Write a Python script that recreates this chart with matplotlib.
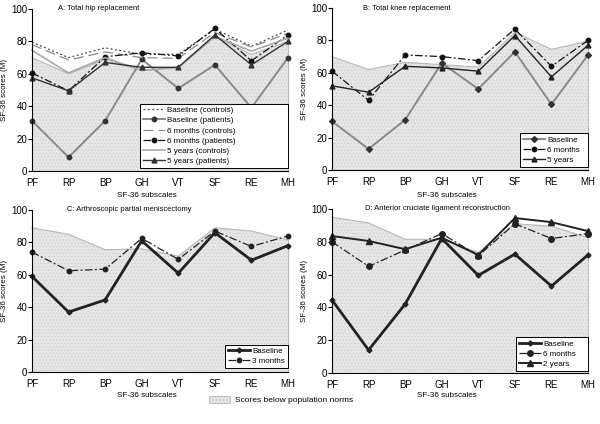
import matplotlib
matplotlib.use("Agg")
import matplotlib.pyplot as plt
from matplotlib.patches import Patch

subscales = ['PF', 'RP', 'BP', 'GH', 'VT', 'SF', 'RE', 'MH']

# A: total hip replacement
hip_norm = [70, 60, 69, 62, 64, 83, 72, 80]
hip_base_ctrl = [79.5, 70, 76, 72, 72, 87.5, 77, 87]
hip_base_pat = [31, 8.5, 31, 69, 51, 65.5, 39, 70]
hip_6m_ctrl = [78, 68.5, 73.5, 70, 69.5, 85.5, 76.5, 85]
hip_6m_pat = [60.5, 49.5, 70.5, 73, 71, 88, 68, 84]
hip_5y_ctrl = [74.5, 60.5, 70, 62, 64, 83, 74, 82]
hip_5y_pat = [57.5, 49.5, 67, 64, 64, 84, 65.5, 80]

# B: total knee replacement
knee_norm = [70, 62, 66.5, 65, 63.5, 85, 74.5, 79.5]
knee_base = [30, 13, 31, 66, 50, 73, 40.5, 71]
knee_6m = [61, 43, 71, 70, 67.5, 87, 64, 80]
knee_5y = [52, 48, 64, 63, 61, 83, 57.5, 77]

# C: arthroscopic partial meniscectomy
apm_norm = [89, 85, 75.5, 76, 71.5, 89, 87, 81.5]
apm_base = [59, 37, 44.5, 81, 61, 86, 69, 78]
apm_3m = [74, 62.5, 63.5, 82.5, 69.5, 87, 77.5, 84]

# D: ACL reconstruction
acl_norm = [95, 91.5, 81.5, 81.5, 73.5, 91, 89.5, 82.5]
acl_base = [44.5, 14, 42, 82, 59.5, 72.5, 53, 72]
acl_6m = [80, 65, 75, 85, 71.5, 91, 82, 85]
acl_2y = [83.5, 80.5, 75.5, 82.5, 72, 94.5, 92, 86.5]

plt.rcParams['font.family'] = ['Liberation Sans', 'DejaVu Sans']
plt.rcParams['hatch.linewidth'] = 0.5

fig = plt.figure(figsize=(6, 4.24), dpi=100)
x = list(range(len(subscales)))

# axes boxes in pixels: left, top, right, bottom
px = {
    'A': (32, 9, 288, 171),
    'B': (332, 8, 588, 170),
    'C': (32, 210, 288, 372),
    'D': (332, 209, 588, 373),
}


def make_ax(key):
    l, t, r, b = px[key]
    return fig.add_axes([l / 600, 1 - b / 424, (r - l) / 600, (b - t) / 424])


def setup(ax, norm, title, tx, xly):
    ax.fill_between(x, 0, norm, facecolor='#e6e6e6', edgecolor='#cdcdcd',
                    hatch='.....', linewidth=0, zorder=0)
    ax.plot(x, norm, color='#b8b8b8', lw=0.8, zorder=1)
    ax.plot([7, 7], [0, norm[-1]], color='#b8b8b8', lw=0.8, zorder=1)
    ax.set_xlim(0, 7)
    ax.set_ylim(0, 100)
    ax.set_xticks(x)
    ax.set_xticklabels(subscales)
    ax.set_yticks([0, 20, 40, 60, 80, 100])
    ax.tick_params(axis='x', length=0, labelsize=7, pad=5)
    ax.tick_params(axis='y', length=3, width=0.8, labelsize=7, pad=0.5)
    ax.spines['top'].set_visible(False)
    ax.spines['right'].set_visible(False)
    ax.spines['left'].set_linewidth(0.8)
    ax.spines['bottom'].set_linewidth(0.8)
    ax.set_xlabel('SF-36 subscales', fontsize=5.8)
    ax.set_ylabel('SF-36 scores (M)', fontsize=5.8)
    ax.xaxis.set_label_coords(0.45, xly)
    ax.yaxis.set_label_coords(-0.092, 0.5)
    ax.text(tx, 1.0, title, transform=ax.transAxes, fontsize=5.4,
            va='center', ha='left')


def leg(ax, key, box):
    # box: legend box in pixels (left, top, right, bottom)
    l, t, r, b = px[key]
    bl, bt, br, bb = box
    x0 = (bl - l) / (r - l)
    y0 = (b - bb) / (b - t)
    w = (br - bl) / (r - l)
    h = (bb - bt) / (b - t)
    lg = ax.legend(loc='lower left', bbox_to_anchor=(x0, y0, w, h), mode='expand',
                   fontsize=5.8, frameon=True, fancybox=False,
                   edgecolor='black', framealpha=1, handlelength=2.7,
                   borderpad=0.35, labelspacing=0.32, handletextpad=0.3,
                   borderaxespad=0)
    lg.get_frame().set_linewidth(0.7)


def noclip(ax):
    for ln in ax.lines:
        ln.set_clip_on(False)


# A
ax = make_ax('A')
setup(ax, hip_norm, 'A: Total hip replacement', 0.1, -0.13)
ax.plot(x, hip_base_ctrl, color='#444444', ls=(0, (1.5, 2)), lw=0.9, label='Baseline (controls)')
ax.plot(x, hip_base_pat, color='#8a8a8a', lw=1.4, marker='o', ms=3.2, mfc='#333333', mec='#333333', label='Baseline (patients)')
ax.plot(x, hip_6m_ctrl, color='#8a8a8a', ls=(0, (8, 4)), lw=0.9, label='6 months (controls)')
ax.plot(x, hip_6m_pat, color='#111111', ls=(0, (6, 2, 1.5, 2)), lw=0.9, marker='o', ms=3.2, label='6 months (patients)')
ax.plot(x, hip_5y_ctrl, color='#a8a8a8', lw=1.2, label='5 years (controls)')
ax.plot(x, hip_5y_pat, color='#333333', lw=1.0, marker='^', ms=3.5, label='5 years (patients)')
noclip(ax)
leg(ax, 'A', (140, 103, 288, 168))

# B
ax = make_ax('B')
setup(ax, knee_norm, 'B: Total knee replacement', 0.12, -0.136)
ax.plot(x, knee_base, color='#8a8a8a', lw=1.4, marker='D', ms=3, mfc='#333333', mec='#333333', label='Baseline')
ax.plot(x, knee_6m, color='#111111', ls=(0, (6, 2, 1.5, 2)), lw=0.9, marker='o', ms=3.2, label='6 months')
ax.plot(x, knee_5y, color='#222222', lw=1.0, marker='^', ms=3.5, label='5 years')
noclip(ax)
leg(ax, 'B', (520, 133, 588, 167))

# C
ax = make_ax('C')
setup(ax, apm_norm, 'C: Arthroscopic partial meniscectomy', 0.137, -0.123)
ax.plot(x, apm_base, color='#222222', lw=2.0, marker='D', ms=2.5, label='Baseline')
ax.plot(x, apm_3m, color='#222222', ls=(0, (6, 2, 1.5, 2)), lw=0.9, marker='o', ms=3.2, label='3 months')
noclip(ax)
leg(ax, 'C', (225, 342, 288, 368))

# D
ax = make_ax('D')
setup(ax, acl_norm, 'D: Anterior cruciate ligament reconstruction', 0.13, -0.117)
ax.plot(x, acl_base, color='#222222', lw=2.0, marker='D', ms=2.5, label='Baseline')
ax.plot(x, acl_6m, color='#222222', ls=(0, (6, 2, 1.5, 2)), lw=0.9, marker='o', ms=4, label='6 months')
ax.plot(x, acl_2y, color='#222222', lw=1.4, marker='^', ms=4, label='2 years')
noclip(ax)
leg(ax, 'D', (516, 335, 588, 371))

# legend for the shaded norms area
fig.legend(handles=[Patch(facecolor='#e6e6e6', edgecolor='#b8b8b8', hatch='.....', lw=0.6)],
           labels=['Scores below population norms'], loc='center',
           bbox_to_anchor=(0.468, 1 - 400 / 424), frameon=False, fontsize=6,
           handlelength=2.6, handleheight=0.9, handletextpad=0.5)

fig.savefig('out.png', dpi=100)
